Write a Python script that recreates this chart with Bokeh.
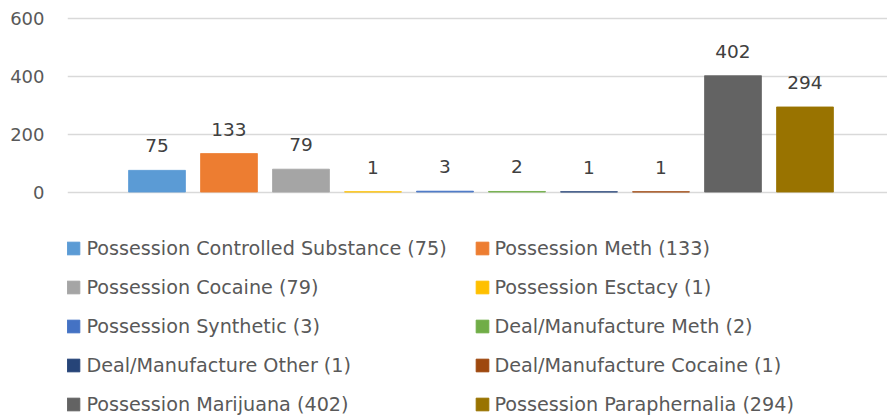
from bokeh.plotting import figure
from bokeh.models import ColumnDataSource, Range1d, FixedTicker, LabelSet, Legend, LegendItem
from bokeh.core.properties import value
from bokeh.embed import file_html
from bokeh.resources import INLINE

categories = [
    "Possession Controlled Substance",
    "Possession Meth",
    "Possession Cocaine",
    "Possession Esctacy",
    "Possession Synthetic",
    "Deal/Manufacture Meth",
    "Deal/Manufacture Other",
    "Deal/Manufacture Cocaine",
    "Possession Marijuana",
    "Possession Paraphernalia",
]
values = [75, 133, 79, 1, 3, 2, 1, 1, 402, 294]
colors = ["#5B9BD5", "#ED7D31", "#A5A5A5", "#FFC000", "#4472C4",
          "#70AD47", "#264478", "#9E480E", "#636363", "#997300"]
y_ticks = [0, 200, 400, 600]

FONT = "DejaVu Sans"

source = ColumnDataSource(dict(
    x=list(range(len(categories))),
    top=values,
    color=colors,
    label=[str(v) for v in values],
))

p = figure(width=887, height=418, output_backend="svg", toolbar_location=None,
           x_range=Range1d(-1.243, 10.146), y_range=Range1d(-782.4, 610),
           min_border_left=67, min_border_right=0, min_border_top=15, min_border_bottom=0)
p.outline_line_color = None
p.background_fill_color = "white"
p.border_fill_color = "white"

r = p.vbar(x="x", top="top", width=0.79, bottom=0, fill_color="color",
           line_color="color", line_width=0.8, source=source)

p.xaxis.visible = False
p.xgrid.visible = False
p.yaxis.ticker = FixedTicker(ticks=y_ticks)
p.yaxis.bounds = (0, 600)
p.yaxis.axis_line_color = None
p.yaxis.major_tick_line_color = None
p.yaxis.minor_tick_line_color = None
p.yaxis.major_tick_out = 0
p.yaxis.major_tick_in = 0
p.yaxis.major_label_standoff = 23
p.yaxis.major_label_text_font = FONT
p.yaxis.major_label_text_font_size = "18px"
p.yaxis.major_label_text_color = "#595959"
p.ygrid.grid_line_color = "#D9D9D9"
p.ygrid.grid_line_width = 1.5
p.ygrid.bounds = (0, 600)

labels = LabelSet(x="x", y="top", text="label", source=source, text_align="center",
                  text_baseline="alphabetic", y_offset=18, text_font=value(FONT),
                  text_font_size=value("18.5px"), text_color="#404040")
p.add_layout(labels)

def make_legend(idxs, xoff, standoff):
    items = [LegendItem(label=f"{categories[i]} ({values[i]})", renderers=[r], index=i) for i in idxs]
    lg = Legend(items=items, location=(xoff, 2.5), orientation="vertical",
                glyph_width=16, glyph_height=16, label_height=22, spacing=16,
                label_standoff=standoff, padding=0, margin=0,
                border_line_color=None, background_fill_alpha=0,
                label_text_font=FONT, label_text_font_size="19.2px",
                label_text_color="#595959", click_policy="none")
    return lg

p.add_layout(make_legend([0, 2, 4, 6, 8], -1.6, 5))
p.add_layout(make_legend([1, 3, 5, 7, 9], 407.4, 4))

open("out.html", "w").write(file_html(p, INLINE))
